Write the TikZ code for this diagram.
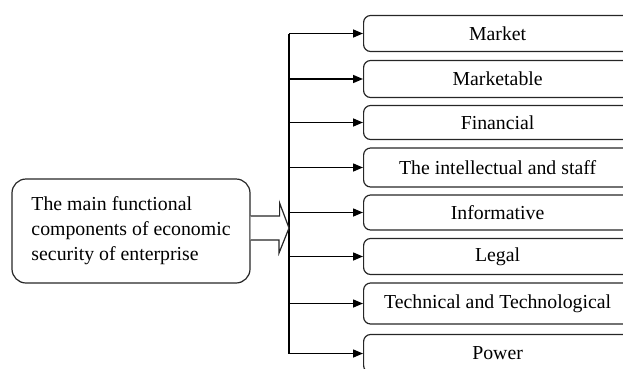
\documentclass[tikz,border=0pt]{standalone}
\usepackage{fontspec}
\setmainfont{Liberation Serif}
\usetikzlibrary{arrows.meta}
\begin{document}
\begin{tikzpicture}[x=1pt,y=-1pt,
  comp/.style={draw=black!85, line width=1.2pt, rounded corners=7pt, minimum width=268pt, inner sep=0pt, font=\fontsize{19.8}{25}\selectfont, anchor=west},
  mainbox/.style={draw=black!85, line width=1.2pt, rounded corners=14pt, minimum width=238pt, inner sep=0pt, minimum height=104pt, font=\fontsize{19.8}{25}\selectfont, align=left},
  link/.style={line width=1.5pt, -{Triangle[length=10pt,width=8pt]}},
  bus/.style={line width=1.5pt},
  hollow/.style={draw=black!85, line width=1.2pt, fill=white, line join=miter},
]
\clip (0,0) rectangle (623,368);
\node[mainbox] (m) at (131,231) {The main functional\\components of economic\\security of enterprise};
\node[comp, minimum height=36pt] (b1) at (363,33.5) {Market};
\node[comp, minimum height=37pt] (b2) at (363,79) {Marketable};
\node[comp, minimum height=34pt] (b3) at (363,122.5) {Financial};
\node[comp, minimum height=39pt] (b4) at (363,167.5) {The intellectual and staff};
\node[comp, minimum height=35pt] (b5) at (363,212.5) {Informative};
\node[comp, minimum height=36pt] (b6) at (363,256.5) {Legal};
\node[comp, minimum height=41pt] (b7) at (363,303.5) {Technical and Technological};
\node[comp, minimum height=38pt] (b8) at (363,353.5) {Power};
\coordinate (col) at (289,0);
\draw[bus] (col |- b1.west) -- (col |- b8.west);
\foreach \b in {b1,b2,b3,b4,b5,b6,b7,b8}
  \draw[link] (col |- \b.west) -- (\b.west);
\draw[hollow] (m.east |- 0,216) -- ++(29,0) -- ++(0,-13) -- (col |- 0,228) -- (279,253) -- ++(0,-13) -- (m.east |- 0,240);
\end{tikzpicture}
\end{document}
